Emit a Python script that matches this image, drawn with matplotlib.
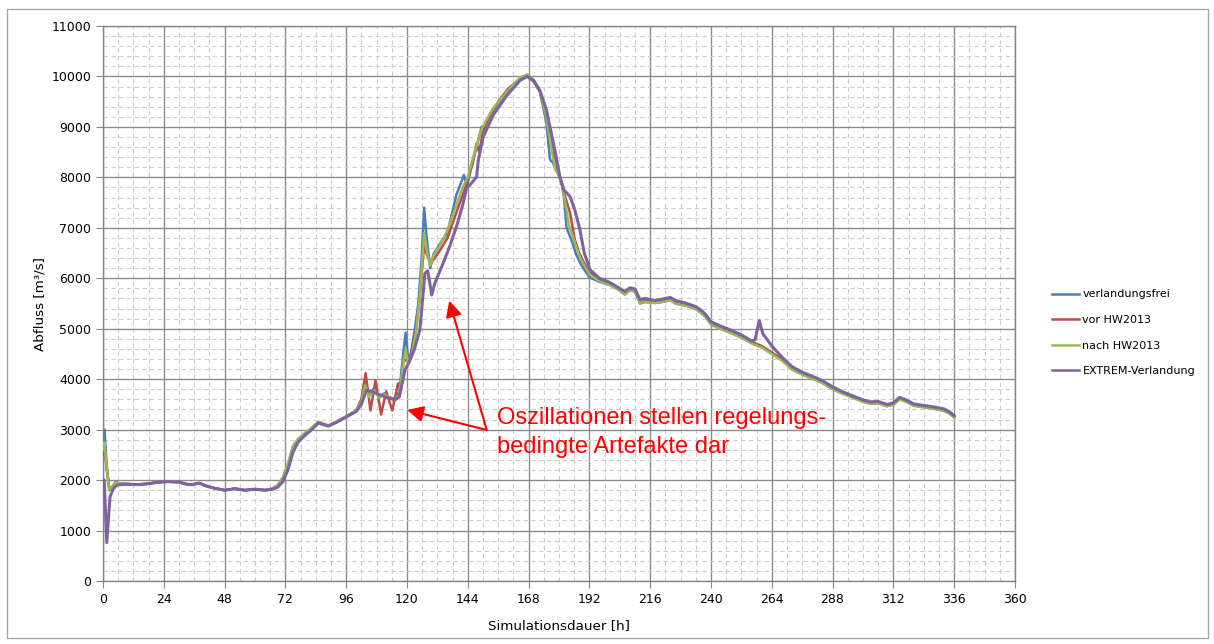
import matplotlib
matplotlib.use('Agg')
import matplotlib.pyplot as plt
import matplotlib.patches as patches
from matplotlib.ticker import MultipleLocator

# --- data ---
series_names = ['verlandungsfrei', 'vor HW2013', 'nach HW2013', 'EXTREM-Verlandung']
series_colors = ['#4A7EBB', '#BE4B48', '#98B954', '#7F63A1']

t_frei = [0, 0.6, 1.5, 2.5, 3.5, 5, 7, 10, 14, 18, 22, 26, 30, 33, 35, 38, 41, 44, 48, 52, 56, 60,
          64, 67, 69, 71, 73, 75, 77, 80, 82, 85, 87, 89, 92, 96, 100, 102, 103.5, 105, 107, 109,
          111, 113, 115, 117, 118.5, 119.5, 120.5, 121.5, 123, 124.5, 125.8, 126.8, 127.8, 129.2,
          130.5, 133, 136, 139.5, 142.5, 143.6, 146.2, 149.5, 150.8, 154, 159.4, 164.6, 167.5, 170,
          172.5, 175, 176.5, 177.5, 179, 181, 182, 183, 185, 187, 189, 192, 196, 200, 204, 206, 208,
          210, 212, 214, 218, 222, 224, 226, 230, 234, 236, 238, 240, 244, 248, 252, 256, 260, 264,
          268, 272, 276, 280, 284, 288, 292, 296, 300, 303, 306, 309.5, 312, 314.5, 317, 320, 324,
          328, 332, 334, 336]
q_frei = [2800, 3000, 2300, 1800, 1850, 1960, 1930, 1920, 1910, 1930, 1960, 1970, 1960, 1920, 1910,
          1940, 1880, 1840, 1800, 1830, 1800, 1820, 1800, 1830, 1900, 2050, 2300, 2650, 2800, 2930,
          3000, 3150, 3110, 3080, 3150, 3260, 3380, 3550, 3900, 3680, 3820, 3650, 3720, 3640, 3620,
          3750, 4500, 4920, 4380, 4500, 4950, 5500, 6400, 7400, 6800, 6200, 6480, 6680, 6900, 7650,
          8050, 7820, 8350, 9000, 9040, 9340, 9670, 9960, 10030, 9920, 9700, 9100, 8350, 8300, 8150,
          7900, 7600, 7000, 6750, 6450, 6250, 6020, 5930, 5870, 5760, 5680, 5760, 5740, 5500, 5530,
          5510, 5540, 5570, 5500, 5460, 5390, 5320, 5230, 5090, 5000, 4920, 4830, 4720, 4640, 4510,
          4380, 4200, 4100, 4020, 3930, 3810, 3720, 3640, 3560, 3520, 3530, 3470, 3500, 3610, 3560,
          3480, 3450, 3420, 3380, 3330, 3250]

t_vor = [0, 0.6, 1.5, 2.5, 3.5, 5, 7, 10, 14, 18, 22, 26, 30, 33, 35, 38, 41, 44, 48, 52, 56, 60,
         64, 67, 69, 71, 73, 75, 77, 80, 82, 85, 87, 89, 92, 96, 100, 102, 103.7, 105.6, 107.6,
         109.8, 111.8, 114.2, 116.5, 117.5, 118.8, 120.3, 122, 123.5, 125, 126.8, 128, 129.3, 131,
         133, 136, 139.5, 142, 144, 146, 147.5, 148.5, 150, 152, 156, 160, 164.6, 167.5, 170, 172.5,
         175, 177, 179, 180.5, 182, 184.4, 186.3, 188, 190, 192, 196, 200, 204, 206, 208, 210, 212,
         214, 218, 222, 224, 226, 230, 234, 236, 238, 240, 244, 248, 252, 256, 260, 264, 268, 272,
         276, 280, 284, 288, 292, 296, 300, 303, 306, 309.5, 312, 314.5, 317, 320, 324, 328, 332,
         334, 336]
q_vor = [2500, 2600, 2200, 1820, 1860, 1950, 1930, 1920, 1910, 1930, 1960, 1970, 1960, 1920, 1910,
         1940, 1880, 1840, 1800, 1830, 1800, 1820, 1800, 1830, 1890, 2030, 2280, 2620, 2790, 2920,
         3000, 3140, 3110, 3080, 3150, 3260, 3380, 3600, 4120, 3380, 3980, 3300, 3760, 3380, 3920,
         3800, 4400, 4350, 4550, 4950, 5600, 6650, 6450, 6300, 6400, 6550, 6800, 7300, 7650, 7950,
         8300, 8680, 8500, 8900, 9150, 9500, 9760, 9950, 10000, 9900, 9700, 9250, 8700, 8300, 8000,
         7700, 7290, 6760, 6500, 6300, 6120, 5950, 5890, 5780, 5700, 5780, 5760, 5520, 5550, 5530,
         5560, 5590, 5520, 5480, 5410, 5340, 5250, 5110, 5020, 4940, 4850, 4740, 4660, 4530, 4400,
         4220, 4120, 4040, 3950, 3830, 3740, 3660, 3580, 3540, 3550, 3490, 3520, 3630, 3580, 3500,
         3470, 3440, 3400, 3350, 3270]

t_nach = [0, 0.6, 1.5, 2.5, 3.5, 5, 7, 10, 14, 18, 22, 26, 30, 33, 35, 38, 41, 44, 48, 52, 56, 60,
          64, 67, 69, 71, 73, 75, 77, 80, 82, 85, 87, 89, 92, 96, 100, 102, 103.5, 105, 107, 109,
          111, 113, 115, 117, 118.5, 119.5, 120.5, 122, 123.5, 125, 126.8, 128, 129.2, 130.5, 133,
          136, 139.5, 142, 144, 146.2, 149, 151, 154, 159.4, 164.6, 167.5, 170, 172.5, 175, 177,
          178.5, 179.5, 181, 182.5, 184, 186, 188, 190, 192, 196, 200, 204, 206, 208, 210, 212, 214,
          218, 222, 224, 226, 230, 234, 236, 238, 240, 244, 248, 252, 256, 260, 264, 268, 272, 276,
          280, 284, 288, 292, 296, 300, 303, 306, 309.5, 312, 314.5, 317, 320, 324, 328, 332, 334, 336]
q_nach = [2600, 2750, 2250, 1800, 1850, 1950, 1930, 1920, 1910, 1930, 1960, 1970, 1960, 1920, 1910,
          1940, 1880, 1840, 1800, 1830, 1800, 1820, 1800, 1830, 1900, 2050, 2320, 2680, 2820, 2950,
          3020, 3160, 3120, 3080, 3150, 3260, 3380, 3550, 3880, 3650, 3780, 3630, 3700, 3640, 3600,
          3680, 4300, 4600, 4300, 4500, 4900, 5600, 6900, 6500, 6250, 6450, 6650, 6950, 7450, 7800,
          8000, 8410, 8900, 9100, 9370, 9690, 9980, 10040, 9930, 9720, 9200, 8600, 8150, 8100, 7900,
          7500, 7050, 6750, 6450, 6250, 6080, 5940, 5870, 5760, 5680, 5760, 5740, 5510, 5530, 5510,
          5540, 5570, 5500, 5460, 5390, 5320, 5230, 5080, 4990, 4910, 4820, 4710, 4630, 4500, 4370,
          4190, 4090, 4010, 3920, 3800, 3710, 3630, 3550, 3510, 3520, 3460, 3490, 3600, 3550, 3470,
          3440, 3410, 3370, 3320, 3240]

t_extrem = [0, 0.5, 1.5, 2.8, 4, 5.4, 7, 10, 14, 18, 22, 26, 30, 33, 35, 38, 41, 44, 48, 52, 56, 60,
            64, 67, 69, 71, 73, 75, 77, 80, 82, 85, 87, 89, 92, 96, 100, 102, 104, 106, 109.4, 112,
            115.3, 117, 119.2, 121, 123, 125.1, 125.8, 127.1, 128.2, 129.8, 131, 134.3, 137, 139.6,
            142, 143.6, 144.9, 147.5, 148.2, 150.1, 154.1, 159.4, 164.6, 167.5, 170, 172.5, 175,
            178.4, 180.4, 182, 184.4, 186.3, 188.3, 190, 192.3, 196, 200, 204, 206, 208, 210, 212,
            214, 218, 222, 224, 226, 230, 234, 236, 238, 240, 244, 248, 252, 256, 257.4, 259.1,
            260.5, 262, 264, 268, 272, 276, 280, 284, 288, 292, 296, 300, 303, 306, 309.5, 312,
            314.5, 317, 320, 324, 328, 332, 334, 336]
q_extrem = [2000, 2000, 760, 1670, 1820, 1900, 1910, 1920, 1910, 1930, 1960, 1970, 1960, 1920, 1910,
            1940, 1880, 1840, 1800, 1830, 1800, 1820, 1800, 1820, 1860, 1970, 2200, 2550, 2750,
            2900, 2980, 3130, 3100, 3070, 3140, 3250, 3360, 3500, 3780, 3760, 3690, 3640, 3590,
            3650, 4180, 4350, 4600, 4980, 5370, 6100, 6150, 5670, 5900, 6300, 6650, 7030, 7450,
            7800, 7850, 8010, 8350, 8800, 9240, 9620, 9920, 10000, 9920, 9720, 9350, 8540, 8000,
            7750, 7620, 7350, 6960, 6500, 6170, 6000, 5920, 5800, 5740, 5810, 5790, 5580, 5600,
            5560, 5600, 5620, 5560, 5510, 5440, 5370, 5280, 5140, 5050, 4970, 4880, 4760, 4780,
            5160, 4900, 4800, 4660, 4440, 4250, 4140, 4060, 3970, 3850, 3750, 3670, 3590, 3550,
            3560, 3500, 3530, 3640, 3590, 3510, 3480, 3450, 3410, 3360, 3280]

x_ticks = list(range(0, 361, 24))
y_ticks = list(range(0, 11001, 1000))

# --- figure ---
fig = plt.figure(figsize=(12.14, 6.44), dpi=100)
ax = fig.add_axes([0.0848, 0.0978, 0.7512, 0.8618])

all_t = [t_frei, t_vor, t_nach, t_extrem]
all_q = [q_frei, q_vor, q_nach, q_extrem]
widths = [1.8, 1.8, 1.8, 2.2]
for t, q, name, col, w in zip(all_t, all_q, series_names, series_colors, widths):
    ax.plot(t, q, color=col, lw=w, label=name, solid_joinstyle='round', zorder=3)

ax.set_xlim(0, 360)
ax.set_ylim(0, 11000)
ax.set_xticks(x_ticks)
ax.set_yticks(y_ticks)
ax.xaxis.set_minor_locator(MultipleLocator(6))
ax.yaxis.set_minor_locator(MultipleLocator(200))
ax.grid(which='major', color='#8c8c8c', lw=1.0, ls='-', zorder=1)
ax.grid(which='minor', color='#cccccc', lw=0.8, ls=(0, (4, 3)), zorder=0)
ax.set_axisbelow(True)
ax.tick_params(which='major', direction='out', length=5, color='#868686', labelsize=9)
ax.tick_params(which='minor', length=0)
for s in ax.spines.values():
    s.set_color('#868686')
    s.set_linewidth(1.0)

ax.set_xlabel('Simulationsdauer [h]', fontsize=9.7)
ax.set_ylabel('Abfluss [m³/s]', fontsize=9.7)
ax.xaxis.set_label_coords(0.5, -0.068)
ax.yaxis.set_label_coords(-0.062, 0.5)

ax.legend(loc='upper left', bbox_to_anchor=(1048 / 1214, 1 - 285 / 644),
          bbox_transform=fig.transFigure, frameon=False, fontsize=8,
          handlelength=2.4, handletextpad=0.3, labelspacing=1.4, borderaxespad=0)
for line in ax.get_legend().get_lines():
    line.set_linewidth(1.8)

# annotation
tail = (151.5, 2993)
ax.annotate('', xy=(120.1, 3390), xytext=tail,
            arrowprops=dict(arrowstyle='-|>', color='red', lw=1.5, mutation_scale=24,
                            shrinkA=0, shrinkB=0), zorder=5)
ax.annotate('', xy=(136.7, 5556), xytext=tail,
            arrowprops=dict(arrowstyle='-|>', color='red', lw=1.5, mutation_scale=24,
                            shrinkA=0, shrinkB=0), zorder=5)
ax.text(155.5, 3440, 'Oszillationen stellen regelungs-\nbedingte Artefakte dar',
        color='red', fontsize=17, family='Liberation Sans', ha='left', va='top',
        linespacing=1.4, zorder=5)

# outer chart border
fig.patches.append(patches.Rectangle((0.0058, 0.0093), 0.989, 0.977, transform=fig.transFigure,
                                     fill=False, edgecolor='#a6a6a6', lw=1))

plt.savefig('out.png', dpi=100)
